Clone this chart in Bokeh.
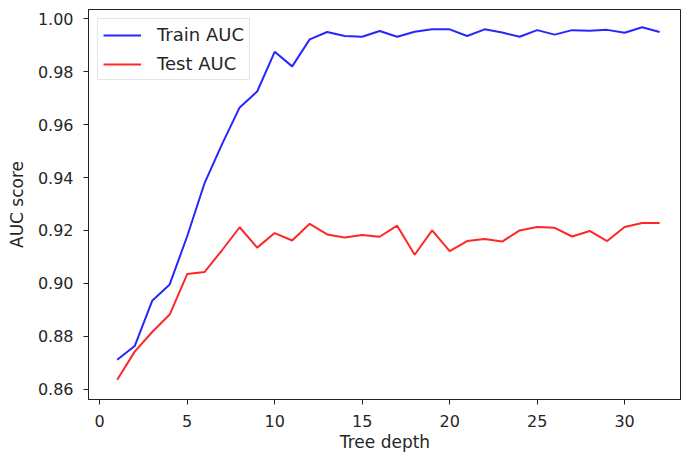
from bokeh.plotting import figure
from bokeh.models import FixedTicker, Range1d, Legend, LegendItem, NumeralTickFormatter
from bokeh.embed import file_html
from bokeh.resources import INLINE

depth = list(range(1, 33))
train_auc = [0.8711, 0.8763, 0.8934, 0.8996, 0.9178, 0.9380, 0.9527, 0.9665, 0.9725, 0.9875,
             0.9820, 0.9922, 0.9950, 0.9935, 0.9932, 0.9954, 0.9932, 0.9951, 0.9960, 0.9960,
             0.9935, 0.9960, 0.9948, 0.9932, 0.9957, 0.9940, 0.9957, 0.9955, 0.9958, 0.9947,
             0.9968, 0.9950]
test_auc = [0.8636, 0.8742, 0.8816, 0.8882, 0.9035, 0.9043, 0.9126, 0.9212, 0.9135, 0.9190,
            0.9162, 0.9225, 0.9185, 0.9173, 0.9183, 0.9176, 0.9218, 0.9108, 0.9200, 0.9122,
            0.9160, 0.9168, 0.9158, 0.9200, 0.9213, 0.9210, 0.9177, 0.9198, 0.9160, 0.9213,
            0.9228, 0.9228]
x_ticks = [0, 5, 10, 15, 20, 25, 30]
y_ticks = [0.86, 0.88, 0.90, 0.92, 0.94, 0.96, 0.98, 1.00]

FONT = "DejaVu Sans"
FS = "16px"

p = figure(width=681, height=455, output_backend="svg", toolbar_location=None,
           x_range=Range1d(-0.64, 33.25), y_range=Range1d(0.8561, 1.0035),
           min_border_left=88, min_border_right=0, min_border_top=9, min_border_bottom=56)
p.grid.visible = False
p.outline_line_color = "#222222"
p.outline_line_width = 1

r1 = p.line(depth, train_auc, line_color="#0000ff", line_width=2, line_alpha=0.85)
r2 = p.line(depth, test_auc, line_color="#ff0000", line_width=2, line_alpha=0.85)

for ax in (p.xaxis[0], p.yaxis[0]):
    ax.axis_line_color = "#222222"
    ax.major_tick_line_color = "#222222"
    ax.major_tick_out = 5
    ax.major_tick_in = 0
    ax.minor_tick_line_color = None
    ax.major_label_text_font = FONT
    ax.major_label_text_font_size = FS
    ax.major_label_text_color = "#262626"
    ax.axis_label_text_font = FONT
    ax.axis_label_text_font_size = "17px"
    ax.axis_label_text_font_style = "normal"
    ax.axis_label_text_color = "#262626"

p.xaxis.ticker = FixedTicker(ticks=x_ticks)
p.yaxis.ticker = FixedTicker(ticks=y_ticks)
p.yaxis.formatter = NumeralTickFormatter(format="0.00")
p.xaxis.axis_label = "Tree depth"
p.yaxis.axis_label = "AUC score"
p.xaxis.major_label_standoff = 10
p.xaxis.axis_label_standoff = 2
p.yaxis.major_label_standoff = 10
p.yaxis.axis_label_standoff = 8

legend = Legend(items=[LegendItem(label="Train AUC", renderers=[r1]),
                       LegendItem(label="Test AUC", renderers=[r2])],
                location="top_left", margin=9, padding=5, spacing=8,
                glyph_width=38, glyph_height=20, label_height=20, label_standoff=16,
                label_text_font=FONT, label_text_font_size="18px", label_text_color="#262626",
                border_line_color="#cccccc", border_line_width=1,
                background_fill_color="white", background_fill_alpha=0.8)
p.add_layout(legend)

open("out.html", "w").write(file_html(p, INLINE))
